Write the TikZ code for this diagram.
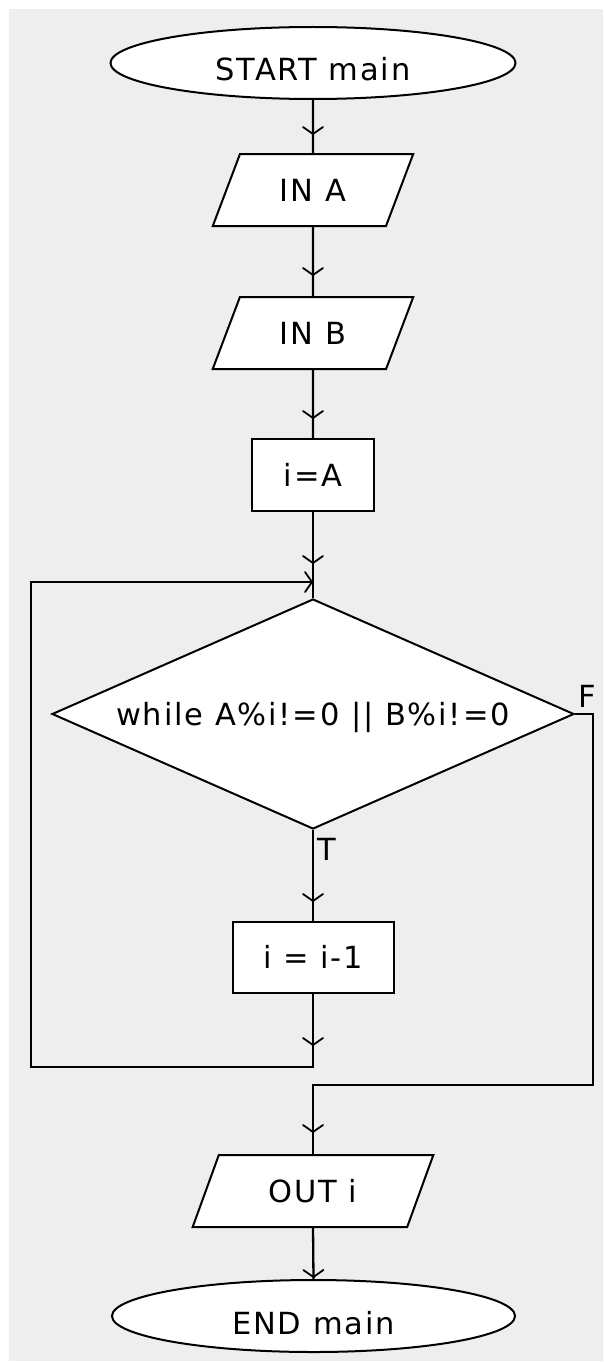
\documentclass[tikz,border=0pt]{standalone}
\usepackage{fontspec}
\setmainfont[LetterSpace=6]{DejaVu Sans}
\usetikzlibrary{shapes.geometric,decorations.markings}
\newcommand\vhead{\draw[line width=1.8pt,line cap=round,line join=round] (-7pt,10pt) -- (0pt,0pt) -- (-7pt,-10pt);}
\begin{document}
\begin{tikzpicture}[x=1pt,y=-1pt,
  shp/.style={draw=black, fill=white, line width=2pt},
  txt/.style={font=\fontsize{30.5}{36}\selectfont, text height=22.2pt, text depth=0pt, inner sep=0pt},
  conn/.style={line width=2.3pt},
  arrowat/.style={postaction={decorate,decoration={markings,mark=at position #1 with {\vhead}}}},
  para/.style={shp, txt, trapezium, trapezium left angle=61, trapezium right angle=119, trapezium stretches=true, minimum height=72pt},
  term/.style={shp, ellipse, inner sep=0pt, minimum height=72pt},
  proc/.style={shp, txt, rectangle}
]
\useasboundingbox (0,0) rectangle (603,1362);
\fill[fill={rgb,255:red,238;green,238;blue,238}] (9,9) rectangle (603,1361);

% coordinates for connector corners
\coordinate (join) at (313,582);
\coordinate (loopL) at (31,1067);
\coordinate (fR) at (593,1085);

% nodes
\node[term, minimum width=405pt] (start) at (313,63) {};
\node[txt] (starttxt) at (313,69) {START main};
\node[para, minimum width=201pt] (inA) at (313,190) {IN A};
\node[para, minimum width=201pt] (inB) at (313,333) {IN B};
\node[proc, minimum width=122pt, minimum height=72pt] (iA) at (313,475) {i=A};
\node[shp, txt, diamond, aspect=2.27, minimum width=522pt, minimum height=230pt] (dec) at (313,714) {while A\%i!=0 || B\%i!=0};
\node[proc, minimum width=161pt, minimum height=71pt] (ii1) at (313,957.5) {i = i-1};
\node[para, minimum width=241pt] (out) at (313,1191) {OUT i};
\node[term, minimum width=403pt] (end) at (313.5,1316) {};
\node[txt] (endtxt) at (313.5,1323) {END main};
\node[txt] (tlab) at (327,849) {T};
\node[txt] (flab) at (587.5,696) {F};

% connectors
\draw[conn, arrowat=-19pt] (start.south) -- (inA.north);
\draw[conn, arrowat=-21pt] (inA.south) -- (inB.north);
\draw[conn, arrowat=-20pt] (inB.south) -- (iA.north);
\draw[conn, arrowat=-19pt] (iA.south) -- (join);
\draw[conn] (join) -- (dec.north);
\draw[conn, arrowat=-20pt] (dec.south) -- (ii1.north);
\draw[conn, postaction={decorate,decoration={markings,
   mark=at position 51pt with {\vhead},
   mark=at position -1pt with {\vhead}}}]
  (ii1.south) |- (loopL) |- (join);
\draw[conn, arrowat=-22pt] (dec.east) -| (fR) -| (out.north);
\draw[conn, arrowat=-2pt] (out.south) -- (end.north);
\end{tikzpicture}
\end{document}
